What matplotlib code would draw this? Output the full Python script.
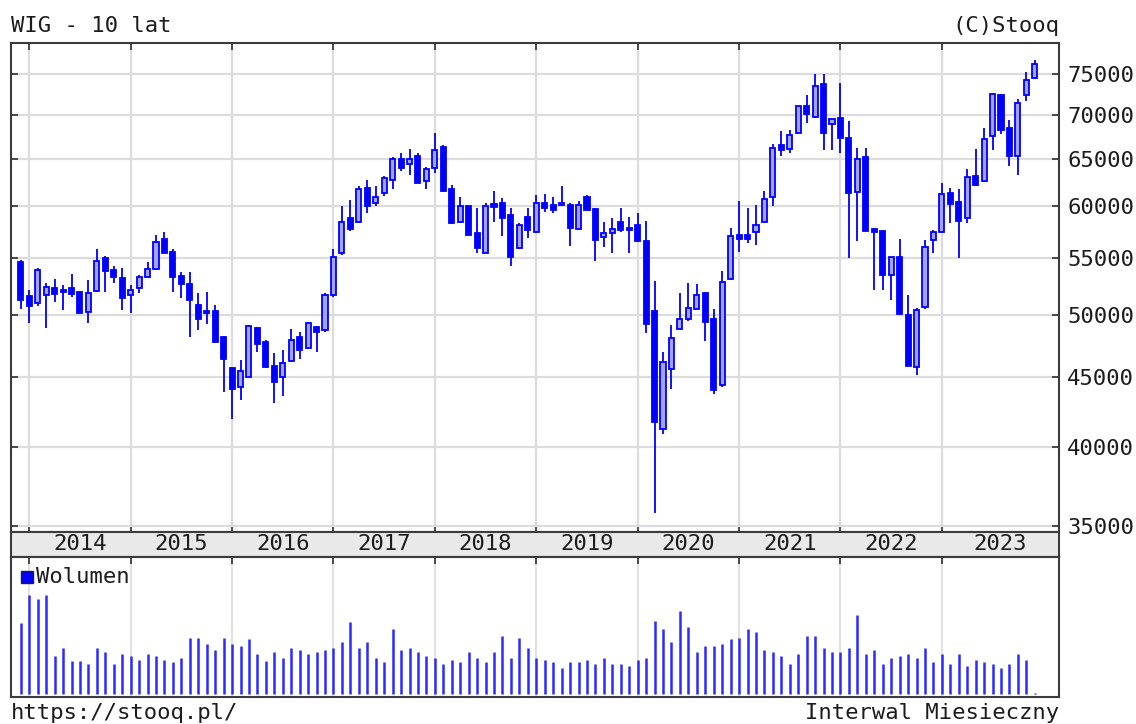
"""
WIG - 10 lat: monthly candlestick chart with volume panel (stooq style)
"""

import numpy as np
import pandas as pd

import matplotlib
matplotlib.use("Agg")
import matplotlib.pyplot as plt
from matplotlib.patches import Rectangle
from matplotlib.ticker import FixedLocator, NullLocator, FuncFormatter
from matplotlib.transforms import blended_transform_factory

W, H = 1136, 724

# ─── Data ─────────────────────────────────────────────────────────────────────

months = pd.period_range("2013-12", "2023-12", freq="M")

opens = [
    54650, 51600, 51000, 51700, 52300, 52110, 52260, 51950, 50170, 52020, 54970, 53900, 53140,
    51670, 52260, 53300, 53960, 56760, 55580, 53320, 52640, 50800, 50320, 50300, 48110,
    45700, 44270, 45020, 48840, 47770, 45830, 45020, 46260, 48110, 47260, 48920, 48710,
    51670, 55420, 58800, 58410, 61940, 60310, 61340, 62730, 64960, 64450, 65270, 62650,
    63980, 66370, 61750, 58410, 60020, 57400, 55510, 60200, 60310, 59170, 55890, 58970,
    57500, 60350, 60110, 60100, 60110, 57760, 60990, 59720, 56950, 57320, 58400, 57860,
    58140, 56630, 50270, 41230, 45590, 48800, 49620, 50470, 51870, 49600, 44370, 53050,
    57180, 57180, 57510, 58450, 60990, 66560, 66140, 67910, 71010, 69780, 73700, 68890,
    69640, 67370, 61470, 65190, 57730, 57590, 53440, 55050, 49930, 45800, 50600, 56690,
    57500, 61410, 60430, 58800, 63150, 62650, 67590, 72360, 68440, 65270, 72360, 74510,
]
highs = [
    54810, 52100, 54050, 52750, 53080, 52560, 53550, 52050, 52960, 55800, 55150, 54270, 54050,
    52550, 53450, 54650, 57190, 57490, 55800, 53700, 53700, 51870, 51960, 50800, 48220,
    45790, 46310, 49120, 48970, 47900, 46850, 47100, 48770, 48540, 49390, 49030, 51870,
    55860, 60080, 60650, 62080, 62730, 62080, 63200, 65190, 65640, 66060, 65640, 64120,
    67900, 66560, 62180, 60990, 60060, 59880, 60350, 61610, 60820, 59880, 58310, 59880,
    61190, 61300, 60990, 62080, 60350, 60570, 61190, 59880, 58460, 58800, 59880, 58980,
    59320, 58540, 52920, 46960, 49120, 51870, 52770, 52620, 51960, 50430, 53820, 57860,
    60570, 59880, 60110, 61610, 66680, 68130, 68250, 71100, 72360, 75040, 75040, 69560,
    73860, 69240, 66160, 66230, 57860, 57590, 55070, 56750, 51670, 50520, 56690, 57660,
    62450, 61940, 61790, 63920, 66060, 68440, 72590, 72470, 69410, 71950, 75200, 76830,
]
lows = [
    50500, 49300, 50700, 48900, 51100, 50380, 51520, 50100, 49250, 51960, 51960, 52700, 50380,
    50100, 51870, 53200, 53900, 55420, 51960, 51380, 48170, 48710, 49200, 47690, 43910,
    41900, 43290, 44990, 46970, 45660, 43060, 43580, 46180, 46360, 47190, 46950, 48580,
    51520, 55280, 57590, 58310, 59360, 60060, 61100, 61750, 63730, 63260, 62380, 61750,
    63510, 61510, 58250, 58310, 57180, 55420, 55420, 58410, 57030, 54270, 55800, 56870,
    57400, 59400, 59360, 60060, 56120, 57630, 59570, 54760, 56030, 55420, 57500, 55420,
    56550, 48500, 35760, 40900, 44080, 48800, 49450, 50470, 47850, 43760, 44270, 52990,
    55560, 56390, 56220, 58400, 60060, 65270, 65640, 67790, 69040, 69660, 65990, 65990,
    65640, 54970, 56610, 57590, 52140, 52140, 51240, 50080, 45830, 45150, 50480, 55470,
    57400, 58380, 54980, 58380, 62080, 62550, 65990, 67790, 64180, 63260, 71620, 74390,
]
closes = [
    51240, 50700, 53900, 52400, 51800, 51900, 51800, 50100, 51870, 54740, 53850, 53240, 51440,
    52100, 53300, 53960, 56520, 55480, 53240, 52640, 51240, 49650, 50100, 47770, 46370,
    44130, 45480, 49030, 47560, 45790, 44620, 46070, 47900, 47120, 49310, 48560, 51670,
    55100, 58440, 57720, 61750, 60060, 60990, 62980, 64960, 63980, 64960, 62450, 63870,
    65990, 61610, 58310, 59990, 57180, 55890, 60020, 59980, 58810, 55100, 58140, 57660,
    60350, 59880, 59640, 60300, 57860, 60110, 59640, 56690, 57400, 57730, 57630, 57660,
    56630, 49200, 41730, 46160, 48020, 49660, 50520, 51670, 49390, 44020, 52850, 57040,
    56780, 56780, 58140, 60720, 66160, 65930, 67670, 71010, 70110, 73450, 67920, 69560,
    67330, 61360, 64970, 57590, 57500, 53440, 55050, 50080, 45830, 50420, 56070, 57500,
    61300, 60200, 58510, 63010, 62180, 67220, 72470, 68300, 65270, 71460, 74250, 76310,
]
volume = [
    212, 297, 285, 297, 114, 139, 100, 100, 90, 139, 125, 90, 119,
    115, 102, 119, 115, 102, 95, 109, 169, 169, 150, 132, 169,
    150, 144, 164, 119, 100, 125, 109, 139, 132, 119, 125, 132,
    139, 157, 217, 139, 157, 109, 95, 194, 132, 139, 125, 114,
    109, 90, 102, 95, 125, 109, 95, 125, 174, 109, 169, 139,
    109, 102, 95, 77, 95, 95, 102, 90, 109, 90, 90, 84,
    102, 109, 219, 194, 157, 249, 200, 125, 144, 144, 150, 164,
    169, 194, 187, 132, 125, 114, 90, 119, 175, 175, 139, 125,
    125, 139, 237, 119, 132, 90, 109, 114, 119, 109, 139, 95,
    119, 90, 119, 84, 102, 95, 90, 77, 90, 119, 102, 4,
]
price_ticks = [35000, 40000, 45000, 50000, 55000, 60000, 65000, 70000, 75000]

# ─── Style ────────────────────────────────────────────────────────────────────

BLUE = "#0000ff"
PALE = "#a3a3ff"
VOLC = "#2b2bff"
GRID = "#dcdcdc"
FRAME = "#3c3c3c"
TXT = "#1c1c1c"
FS = 16

plt.rcParams["font.family"] = ["DejaVu Sans Mono", "DejaVu Sans"]


def frac(px, py, w=0, h=0):
    return [px / W, 1 - (py + h) / H, w / W, h / H]


fig = plt.figure(figsize=(W / 100, H / 100), dpi=100, facecolor="white")
ax = fig.add_axes(frac(11, 43, 1048, 489))
ax_band = fig.add_axes(frac(11, 532, 1048, 25))
ax_vol = fig.add_axes(frac(11, 557, 1048, 140))

x = np.arange(len(months))
xmin, xmax = -1.16, 122.86
year_starts = [i for i, m in enumerate(months) if m.month == 1]
years = [months[i].year for i in year_starts]

o = np.array(opens)
c = np.array(closes)
up = c >= o

# ─── Price panel ──────────────────────────────────────────────────────────────

ax.set_yscale("log")
ax.set_xlim(xmin, xmax)
ax.set_ylim(34650, 79030)

ax.vlines(x, lows, highs, color=BLUE, lw=1.3, zorder=3)
body_lo = np.minimum(o, c)
body_h = np.maximum(np.abs(c - o), 1)
ax.bar(x[up], body_h[up], bottom=body_lo[up], width=0.6,
       facecolor=PALE, edgecolor=BLUE, linewidth=1.3, zorder=4)
ax.bar(x[~up], body_h[~up], bottom=body_lo[~up], width=0.6,
       facecolor=BLUE, edgecolor=BLUE, linewidth=1.3, zorder=4)

ax.yaxis.set_major_locator(FixedLocator(price_ticks))
ax.yaxis.set_minor_locator(NullLocator())
ax.yaxis.set_major_formatter(FuncFormatter(lambda v, p: f"{v:.0f}"))
ax.xaxis.set_major_locator(FixedLocator(year_starts))
ax.xaxis.set_minor_locator(NullLocator())
ax.tick_params(axis="y", direction="in", left=True, right=True,
               labelleft=False, labelright=True, length=5, width=1.3,
               color=FRAME, labelsize=FS, labelcolor=TXT, pad=6)
ax.tick_params(axis="x", direction="in", top=True, bottom=True,
               labelbottom=False, length=5, width=1.3, color=FRAME)
ax.grid(True, color=GRID, lw=1.6, zorder=0)
ax.set_axisbelow(True)

# ─── Date band ────────────────────────────────────────────────────────────────

ax_band.set_facecolor("#e9e9e9")
ax_band.set_xlim(xmin, xmax)
ax_band.set_ylim(0, 1)
ax_band.set_xticks([])
ax_band.set_yticks([])
bounds = year_starts + [xmax]
for k, yr in enumerate(years):
    ax_band.text((bounds[k] + bounds[k + 1]) / 2, 0.5, str(yr), ha="center",
                 va="center", fontsize=FS, color=TXT)

# ─── Volume panel ─────────────────────────────────────────────────────────────

ax_vol.set_xlim(xmin, xmax)
ax_vol.set_ylim(-9, 411)
ax_vol.vlines(x, 0, volume, color=VOLC, lw=1.8, zorder=3)
ax_vol.xaxis.set_major_locator(FixedLocator(year_starts))
ax_vol.set_yticks([])
ax_vol.tick_params(axis="x", direction="in", top=True, bottom=False,
                   labelbottom=False, length=5, width=1.3, color=FRAME)
ax_vol.grid(True, axis="x", color=GRID, lw=1.2, zorder=0)
ax_vol.set_axisbelow(True)

fig.add_artist(Rectangle((21 / W, 1 - 583 / H), 12 / W, 12 / H,
                         facecolor=BLUE, edgecolor="#202020", lw=1.0,
                         transform=fig.transFigure))
fig.text(36 / W, 1 - 577 / H, "Wolumen", ha="left", va="center",
         fontsize=FS, color=TXT)

for a in (ax, ax_band, ax_vol):
    for s in a.spines.values():
        s.set_color(FRAME)
        s.set_linewidth(1.5)

# ─── Header / footer texts ────────────────────────────────────────────────────

fig.text(11 / W, 1 - 26 / H, "WIG - 10 lat", ha="left", va="center",
         fontsize=FS, color=TXT)
fig.text(1059 / W, 1 - 26 / H, "(C)Stooq", ha="right", va="center",
         fontsize=FS, color=TXT)
fig.text(11 / W, 1 - 713 / H, "https://stooq.pl/", ha="left", va="center",
         fontsize=FS, color=TXT)
fig.text(1059 / W, 1 - 713 / H, "Interwal Miesieczny", ha="right",
         va="center", fontsize=FS, color=TXT)

fig.savefig("out.png", dpi=100, facecolor="white")
plt.close(fig)
